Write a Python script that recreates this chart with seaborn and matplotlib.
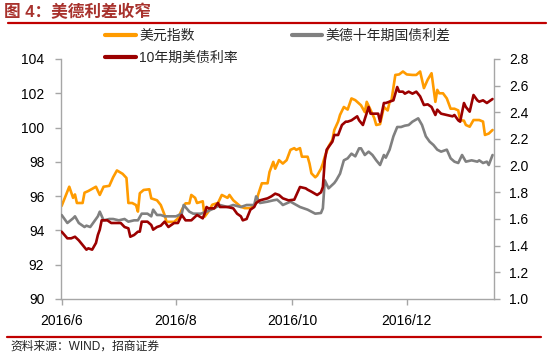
import matplotlib
matplotlib.use("Agg")
import matplotlib.pyplot as plt
import seaborn as sns
import pandas as pd
from matplotlib.lines import Line2D

# ---------------- data ----------------
dxy_dates = ["2016-06-24","2016-06-28","2016-06-30","2016-07-01","2016-07-02","2016-07-05","2016-07-06","2016-07-08",
             "2016-07-12","2016-07-14","2016-07-16","2016-07-19","2016-07-21","2016-07-23","2016-07-26","2016-07-28",
             "2016-07-29","2016-07-31","2016-08-02","2016-08-03","2016-08-04","2016-08-06","2016-08-09","2016-08-10",
             "2016-08-13","2016-08-15","2016-08-17","2016-08-18","2016-08-22","2016-08-24","2016-08-26","2016-08-28",
             "2016-08-30","2016-08-31","2016-09-02","2016-09-03","2016-09-06","2016-09-07","2016-09-09","2016-09-11",
             "2016-09-14","2016-09-16","2016-09-19","2016-09-20","2016-09-22","2016-09-26","2016-09-28","2016-10-01",
             "2016-10-04","2016-10-05","2016-10-07","2016-10-10","2016-10-11","2016-10-13","2016-10-14","2016-10-16",
             "2016-10-17","2016-10-18","2016-10-20","2016-10-22","2016-10-24","2016-10-25","2016-10-27","2016-10-28",
             "2016-10-31","2016-11-01","2016-11-02","2016-11-04","2016-11-05","2016-11-07","2016-11-08","2016-11-09",
             "2016-11-11","2016-11-13","2016-11-14","2016-11-16","2016-11-17","2016-11-19","2016-11-21","2016-11-23",
             "2016-11-25","2016-11-27","2016-11-28","2016-11-30","2016-12-01","2016-12-03","2016-12-05","2016-12-06",
             "2016-12-08","2016-12-10","2016-12-12","2016-12-13","2016-12-14","2016-12-16","2016-12-18","2016-12-20",
             "2016-12-22","2016-12-25","2016-12-27","2016-12-29","2016-12-31","2017-01-02","2017-01-04","2017-01-06",
             "2017-01-07","2017-01-08","2017-01-10","2017-01-12","2017-01-14","2017-01-16","2017-01-18","2017-01-19",
             "2017-01-21","2017-01-22","2017-01-24","2017-01-26","2017-01-29","2017-01-31","2017-02-01","2017-02-03",
             "2017-02-05"]
dxy_values = [95.43,96.55,95.9,96.1,95.6,95.6,96.2,96.3,
              96.55,96.07,96.55,96.6,97.1,97.5,97.3,97.06,
              95.6,95.6,95.48,95.1,96.17,96.36,96.4,95.87,
              95.76,95.48,94.9,94.5,94.5,94.7,95.2,95.58,
              95.58,96.07,95.9,95.6,95.7,94.8,95.1,95.5,
              95.6,96.07,95.9,96.07,95.76,95.38,95.3,95.3,
              95.58,96.07,96.75,96.75,97.4,98.0,97.6,98.1,
              98.0,97.9,98.1,98.7,98.8,98.7,98.8,98.3,
              98.3,97.9,97.33,97.1,97.2,97.6,97.9,98.3,
              98.9,99.28,99.86,100.35,100.74,101.2,101.05,101.7,
              101.6,101.4,101.3,100.9,101.5,101.03,100.54,100.15,
              100.2,101.2,101.0,101.5,101.6,103.07,103.1,103.27,
              103.1,103.07,103.07,103.27,102.3,102.8,103.17,101.5,
              102.2,102.0,102.0,101.7,101.1,101.1,101.0,100.44,
              100.4,100.15,100.05,100.44,100.44,100.35,99.57,99.65,
              99.86]

spread_dates = ["2016-06-24","2016-06-27","2016-06-30","2016-07-01","2016-07-03","2016-07-06","2016-07-07","2016-07-09",
                "2016-07-11","2016-07-13","2016-07-14","2016-07-16","2016-07-19","2016-07-21","2016-07-24","2016-07-27",
                "2016-07-29","2016-08-01","2016-08-03","2016-08-05","2016-08-08","2016-08-10","2016-08-11","2016-08-13",
                "2016-08-15","2016-08-17","2016-08-20","2016-08-23","2016-08-26","2016-08-27","2016-08-30","2016-09-01",
                "2016-09-05","2016-09-08","2016-09-12","2016-09-15","2016-09-19","2016-09-22","2016-09-26","2016-09-29",
                "2016-10-03","2016-10-04","2016-10-06","2016-10-10","2016-10-13","2016-10-15","2016-10-17","2016-10-18",
                "2016-10-22","2016-10-27","2016-10-31","2016-11-02","2016-11-04","2016-11-07","2016-11-08","2016-11-09",
                "2016-11-11","2016-11-14","2016-11-15","2016-11-17","2016-11-19","2016-11-21","2016-11-23","2016-11-25",
                "2016-11-27","2016-11-28","2016-11-30","2016-12-02","2016-12-04","2016-12-06","2016-12-08","2016-12-10",
                "2016-12-11","2016-12-13","2016-12-15","2016-12-17","2016-12-19","2016-12-21","2016-12-23","2016-12-25",
                "2016-12-28","2016-12-30","2017-01-01","2017-01-03","2017-01-05","2017-01-07","2017-01-09","2017-01-12",
                "2017-01-14","2017-01-16","2017-01-18","2017-01-20","2017-01-22","2017-01-25","2017-01-28","2017-01-29",
                "2017-01-31","2017-02-02","2017-02-03","2017-02-05"]
spread_values = [1.63,1.57,1.605,1.62,1.57,1.54,1.55,1.54,
                 1.58,1.62,1.655,1.59,1.60,1.60,1.59,1.60,
                 1.58,1.59,1.59,1.64,1.64,1.62,1.67,1.63,
                 1.63,1.62,1.62,1.62,1.64,1.705,1.655,1.64,
                 1.64,1.655,1.68,1.705,1.69,1.705,1.69,1.705,
                 1.705,1.77,1.72,1.73,1.74,1.745,1.72,1.705,
                 1.73,1.69,1.67,1.655,1.64,1.645,1.68,1.89,
                 1.83,1.87,1.89,1.94,2.04,2.055,2.09,2.07,
                 2.13,2.13,2.08,2.105,2.08,2.04,2.005,2.08,
                 2.06,2.12,2.22,2.29,2.29,2.30,2.305,2.33,
                 2.355,2.305,2.22,2.18,2.155,2.12,2.105,2.12,
                 2.055,2.03,2.02,2.08,2.03,2.04,2.03,2.04,
                 2.02,2.03,2.005,2.08]

ust_dates = ["2016-06-24","2016-06-27","2016-06-29","2016-07-01","2016-07-03","2016-07-05","2016-07-07","2016-07-08",
             "2016-07-10","2016-07-12","2016-07-13","2016-07-14","2016-07-15","2016-07-18","2016-07-20","2016-07-22",
             "2016-07-25","2016-07-27","2016-07-29","2016-07-30","2016-08-01","2016-08-03","2016-08-04","2016-08-05",
             "2016-08-08","2016-08-10","2016-08-11","2016-08-13","2016-08-15","2016-08-17","2016-08-19","2016-08-22",
             "2016-08-24","2016-08-26","2016-08-28","2016-08-31","2016-09-03","2016-09-06","2016-09-07","2016-09-08",
             "2016-09-09","2016-09-12","2016-09-14","2016-09-15","2016-09-19","2016-09-22","2016-09-24","2016-09-26",
             "2016-09-27","2016-09-29","2016-10-01","2016-10-03","2016-10-04","2016-10-06","2016-10-10","2016-10-12",
             "2016-10-14","2016-10-16","2016-10-18","2016-10-21","2016-10-24","2016-10-27","2016-10-30","2016-10-31",
             "2016-11-02","2016-11-05","2016-11-07","2016-11-08","2016-11-09","2016-11-10","2016-11-13","2016-11-14",
             "2016-11-16","2016-11-18","2016-11-20","2016-11-21","2016-11-23","2016-11-26","2016-11-27","2016-11-29",
             "2016-12-02","2016-12-03","2016-12-05","2016-12-07","2016-12-08","2016-12-10","2016-12-11","2016-12-13",
             "2016-12-15","2016-12-17","2016-12-18","2016-12-20","2016-12-21","2016-12-23","2016-12-25","2016-12-27",
             "2016-12-29","2016-12-31","2017-01-02","2017-01-04","2017-01-06","2017-01-07","2017-01-09","2017-01-12",
             "2017-01-15","2017-01-16","2017-01-18","2017-01-19","2017-01-21","2017-01-22","2017-01-24","2017-01-26",
             "2017-01-28","2017-01-29","2017-01-31","2017-02-02","2017-02-04","2017-02-05"]
ust_values = [1.505,1.455,1.455,1.467,1.44,1.405,1.37,1.38,
              1.37,1.42,1.48,1.52,1.59,1.59,1.57,1.57,
              1.57,1.54,1.53,1.467,1.48,1.505,1.505,1.58,
              1.58,1.555,1.52,1.54,1.55,1.58,1.54,1.57,
              1.57,1.63,1.59,1.59,1.63,1.605,1.64,1.69,
              1.68,1.68,1.72,1.69,1.69,1.68,1.64,1.62,
              1.59,1.60,1.67,1.69,1.72,1.74,1.755,1.77,
              1.79,1.78,1.755,1.74,1.745,1.84,1.83,1.82,
              1.805,1.78,1.80,1.84,2.04,2.12,2.18,2.23,
              2.23,2.305,2.33,2.33,2.34,2.37,2.34,2.305,
              2.44,2.39,2.39,2.39,2.33,2.47,2.47,2.48,
              2.49,2.59,2.555,2.555,2.54,2.555,2.54,2.555,
              2.52,2.455,2.46,2.44,2.38,2.42,2.39,2.38,
              2.37,2.38,2.34,2.33,2.47,2.44,2.405,2.53,
              2.49,2.48,2.49,2.47,2.49,2.50]

tick_dates = ["2016-06-24", "2016-08-23", "2016-10-23", "2016-12-22"]
tick_labels = ["2016/6", "2016/8", "2016/10", "2016/12"]

left_ticks = [90, 92, 94, 96, 98, 100, 102, 104]
right_ticks = [1.0, 1.2, 1.4, 1.6, 1.8, 2.0, 2.2, 2.4, 2.6, 2.8]

title = "图 4：美德利差收窄"
source = "资料来源：WIND，招商证券"
names = ["美元指数", "10年期美债利率", "美德十年期国债利差"]

# ---------------- style ----------------
sns.set_theme(style="white")
plt.rcParams["font.family"] = ["Liberation Sans", "Noto Sans CJK SC", "DejaVu Sans"]

C_ORANGE = "#FF9B00"
C_GRAY = "#808080"
C_RED = "#9B0000"
C_AXIS = "#A6A6A6"

fig = plt.figure(figsize=(5.54, 3.57), dpi=100)
W, H = 554, 357
ax = fig.add_axes([61 / W, 1 - 299 / H, (494 - 61) / W, (299 - 59) / H])
ax2 = ax.twinx()

dxy = pd.DataFrame({"date": pd.to_datetime(dxy_dates), "v": dxy_values})
spr = pd.DataFrame({"date": pd.to_datetime(spread_dates), "v": spread_values})
ust = pd.DataFrame({"date": pd.to_datetime(ust_dates), "v": ust_values})

lw = 1.9
sns.lineplot(data=dxy, x="date", y="v", ax=ax, color=C_ORANGE, lw=lw, legend=False)
sns.lineplot(data=spr, x="date", y="v", ax=ax2, color=C_GRAY, lw=lw, legend=False)
sns.lineplot(data=ust, x="date", y="v", ax=ax2, color=C_RED, lw=lw, legend=False)

ax.set_ylim(90, 104)
ax2.set_ylim(1.0, 2.8)
ax.set_xlim(pd.Timestamp("2016-06-24") - pd.Timedelta(hours=8),
            pd.Timestamp("2017-02-05") + pd.Timedelta(hours=18))

ax.set_yticks(left_ticks)
ax.set_yticklabels([str(t) for t in left_ticks])
ax2.set_yticks(right_ticks)
ax2.set_yticklabels([f"{t:.1f}" for t in right_ticks])
ax.set_xticks(pd.to_datetime(tick_dates))
ax.set_xticklabels(tick_labels)

for a in (ax, ax2):
    a.set_xlabel("")
    a.set_ylabel("")
    for s in a.spines.values():
        s.set_visible(False)
ax.spines["left"].set_visible(True)
ax.spines["bottom"].set_visible(True)
ax2.spines["right"].set_visible(True)
for s in (ax.spines["left"], ax.spines["bottom"], ax2.spines["right"]):
    s.set_color(C_AXIS)
    s.set_linewidth(1.0)

ax.tick_params(axis="y", which="both", left=True, length=4, width=1, color=C_AXIS,
               labelsize=10, labelcolor="black", pad=8, direction="out")
ax.tick_params(axis="x", which="both", bottom=True, length=4, width=1, color=C_AXIS,
               labelsize=10, labelcolor="black", pad=7, direction="out")
ax2.tick_params(axis="y", which="both", right=True, length=4, width=1, color=C_AXIS,
                labelsize=10, labelcolor="black", pad=7, direction="out")
ax.grid(False)
ax2.grid(False)

# legend
handles = [Line2D([], [], color=C_ORANGE, lw=3),
           Line2D([], [], color=C_RED, lw=3),
           Line2D([], [], color=C_GRAY, lw=3)]
fig.legend(handles, names, loc="upper left", bbox_to_anchor=(105 / W, 1 - 29 / H),
           ncol=2, frameon=False, fontsize=10, handlelength=2.2, handletextpad=0.25,
           columnspacing=3.9, labelspacing=0.55, borderpad=0, borderaxespad=0)

# title, rules, source
fig.text(4 / W, 1 - 12 / H, title, fontsize=12, fontweight="bold", color="#A8322D",
         va="center", ha="left")
fig.add_artist(Line2D([8 / W, 546 / W], [1 - 23 / H, 1 - 23 / H], color="#C00000", lw=1.6))
fig.add_artist(Line2D([7 / W, 541 / W], [1 - 337 / H, 1 - 337 / H], color="#C00000", lw=1.6))
fig.text(10 / W, 1 - 347 / H, source, fontsize=8.5, color="#222222", va="center", ha="left")

fig.savefig("out.png", dpi=100)
